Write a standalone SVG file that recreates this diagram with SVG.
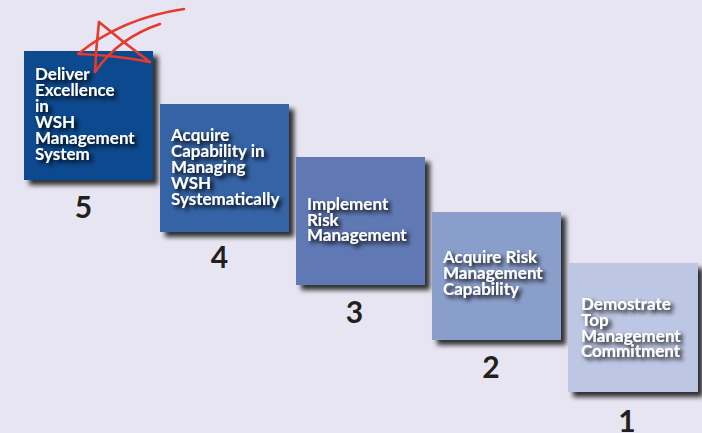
<svg xmlns="http://www.w3.org/2000/svg" width="702" height="433" viewBox="0 0 702 433">
<style>
.box{filter:url(#boxShadow);}
.lbl{font-family:Lato,"Liberation Sans",sans-serif;font-weight:bold;font-size:17px;fill:#ffffff;filter:url(#txtShadow);}
.num{font-family:Lato,"Liberation Sans",sans-serif;font-weight:bold;font-size:30px;fill:#231f20;text-anchor:middle;}
</style>
<defs>
<filter id="boxShadow" x="-10%" y="-10%" width="130%" height="130%">
<feDropShadow dx="5" dy="5" stdDeviation="2.5" flood-color="#000" flood-opacity="0.8"/>
</filter>
<filter id="txtShadow" x="-10%" y="-20%" width="130%" height="160%">
<feDropShadow dx="3" dy="3" stdDeviation="2.3" flood-color="#000" flood-opacity="1"/>
</filter>
</defs>
<rect x="0" y="0" width="702" height="433" fill="#e7e5f1"/>

<g id="step5">
<rect class="box" x="24" y="51" width="129" height="129" fill="#0c4a8e"/>
<text class="lbl"><tspan x="35" y="80">Deliver</tspan><tspan x="35" y="96">Excellence</tspan><tspan x="35" y="112">in</tspan><tspan x="35" y="128">WSH</tspan><tspan x="35" y="144">Management</tspan><tspan x="35" y="160">System</tspan></text>
<text class="num" x="83.5" y="218">5</text>
</g>

<g id="step4">
<rect class="box" x="160" y="104" width="129" height="128" fill="#3563a6"/>
<text class="lbl"><tspan x="171" y="141">Acquire</tspan><tspan x="171" y="157">Capability in</tspan><tspan x="171" y="173">Managing</tspan><tspan x="171" y="189">WSH</tspan><tspan x="171" y="205">Systematically</tspan></text>
<text class="num" x="219.5" y="268">4</text>
</g>

<g id="step3">
<rect class="box" x="296" y="157" width="129" height="128" fill="#6178b4"/>
<text class="lbl"><tspan x="307" y="210">Implement</tspan><tspan x="307" y="225.5">Risk</tspan><tspan x="307" y="241">Management</tspan></text>
<text class="num" x="354.5" y="323">3</text>
</g>

<g id="step2">
<rect class="box" x="432" y="212" width="129" height="128" fill="#8a9ecb"/>
<text class="lbl"><tspan x="443" y="263">Acquire Risk</tspan><tspan x="443" y="279">Management</tspan><tspan x="443" y="294.5">Capability</tspan></text>
<text class="num" x="491" y="378">2</text>
</g>

<g id="step1">
<rect class="box" x="568" y="263" width="130" height="129" fill="#bdc6e2"/>
<text class="lbl"><tspan x="581" y="310">Demostrate</tspan><tspan x="581" y="326">Top</tspan><tspan x="581" y="342">Management</tspan><tspan x="581" y="357">Commitment</tspan></text>
<text class="num" x="627" y="432">1</text>
</g>

<g id="connectors"></g>

<g id="star">
<path d="M184,9 Q122,18 78,54 Q114,55 150,62 Q124,43 99,22 Q96,48 95,72 Q118,38 160,24" fill="none" stroke="#e63a2e" stroke-width="2.6" stroke-linecap="round" stroke-linejoin="round"/>
</g>
</svg>
